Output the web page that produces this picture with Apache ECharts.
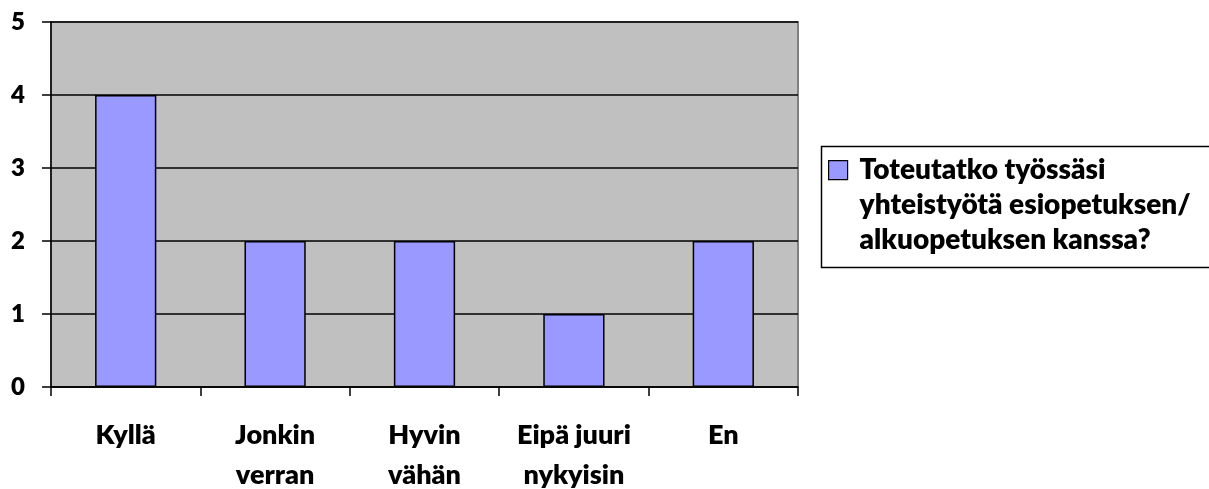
<!DOCTYPE html>
<html>
<head>
<meta charset="utf-8">
<style>
  html, body { margin: 0; padding: 0; background: #fff; }
  #chart { width: 1209px; height: 489px; }
</style>
<script src="https://cdn.jsdelivr.net/npm/echarts@6/dist/echarts.min.js"></script>
</head>
<body>
<div id="chart"></div>
<script>
// Answers to the survey question, one bar per answer option
const categories = ['Kyllä', 'Jonkin\nverran', 'Hyvin\nvähän', 'Eipä juuri\nnykyisin', 'En'];
const seriesName = 'Toteutatko työssäsi\nyhteistyötä esiopetuksen/\nalkuopetuksen kanssa?';
const counts = [4, 2, 2, 1, 2];
const yTicks = [0, 1, 2, 3, 4, 5];

const FONT = 'Lato, "Open Sans", sans-serif';

// Legend swatch: a square sitting level with the first text line; the two
// tiny end segments only stretch the symbol box to the full text height.
const LEGEND_ICON = 'path://M0,0L0.01,0M0,8L19,8L19,27L0,27ZM26,105L25.99,105';

const chart = echarts.init(document.getElementById('chart'), null, { renderer: 'canvas' });

chart.setOption({
  animation: false,
  backgroundColor: '#ffffff',
  grid: {
    left: 51, right: 411, top: 22, bottom: 102,
    outerBoundsMode: 'none',
    containLabel: false,
    show: true,
    backgroundColor: '#C0C0C0',
    borderColor: '#808080',
    borderWidth: 2
  },
  xAxis: {
    type: 'category',
    data: categories,
    axisLine: { show: true, lineStyle: { color: '#000', width: 1.5 } },
    axisTick: { show: true, alignWithLabel: false, length: 9, lineStyle: { color: '#000', width: 1.5 } },
    axisLabel: {
      margin: 28,
      color: '#000',
      fontFamily: FONT,
      fontWeight: 800,
      fontSize: 27,
      lineHeight: 40,
      interval: 0
    },
    splitLine: { show: false }
  },
  yAxis: {
    type: 'value',
    min: yTicks[0],
    max: yTicks[yTicks.length - 1],
    interval: 1,
    axisLine: { show: true, lineStyle: { color: '#000', width: 1.5 } },
    axisTick: { show: true, length: 9, lineStyle: { color: '#000', width: 1.5 } },
    axisLabel: {
      margin: 26,
      color: '#000',
      fontFamily: FONT,
      fontWeight: 800,
      fontSize: 24
    },
    splitLine: { show: true, lineStyle: { color: '#000', width: 1.5 } }
  },
  legend: {
    orient: 'vertical',
    left: 828,
    top: 152,
    padding: 0,
    itemWidth: 26,
    itemHeight: 105,
    itemGap: 0,
    icon: LEGEND_ICON,
    itemStyle: { borderColor: '#000', borderWidth: 1.2 },
    textStyle: {
      color: '#000',
      fontFamily: FONT,
      fontWeight: 800,
      fontSize: 28,
      lineHeight: 35
    },
    data: [seriesName]
  },
  graphic: [{
    type: 'rect',
    left: 819,
    top: 144,
    shape: { width: 420, height: 121 },
    style: { fill: 'none', stroke: '#000', lineWidth: 1.5 },
    z: 10
  }],
  series: [{
    name: seriesName,
    type: 'bar',
    data: counts,
    barCategoryGap: '59%',
    itemStyle: { color: '#9999FF', borderColor: '#000', borderWidth: 1.5 }
  }]
});
</script>
</body>
</html>
